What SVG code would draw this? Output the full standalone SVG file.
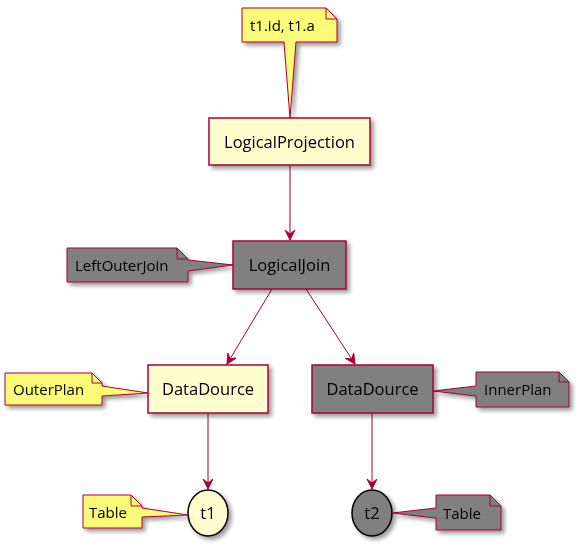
<svg xmlns="http://www.w3.org/2000/svg" width="583" height="550" viewBox="0 0 583 550">
<defs>
<filter id="sh" x="-20%" y="-20%" width="150%" height="150%">
<feGaussianBlur in="SourceAlpha" stdDeviation="2"/>
<feOffset dx="3" dy="3" result="b"/>
<feComponentTransfer><feFuncA type="linear" slope="0.4"/></feComponentTransfer>
<feMerge><feMergeNode/><feMergeNode in="SourceGraphic"/></feMerge>
</filter>
<marker id="ah" markerWidth="12" markerHeight="12" refX="10" refY="5" orient="auto" markerUnits="userSpaceOnUse">
<path d="M0,0 L10,5 L0,10 L4,5 Z" fill="#A80036" stroke="#A80036"/>
</marker>
</defs>
<style>
.box{fill:#FEFECE;stroke:#A80036;stroke-width:1.5}
.gbox{fill:#808080;stroke:#A80036;stroke-width:1.5}
.note{fill:#FBFB77;stroke:#A80036;stroke-width:1}
.gnote{fill:#808080;stroke:#A80036;stroke-width:1}
.fold{fill:none;stroke:#A80036;stroke-width:1}
.t{font-family:"Open Sans","Noto Sans",sans-serif;font-size:16.5px;fill:#000;text-anchor:middle}
.nt{font-family:"Open Sans","Noto Sans",sans-serif;font-size:15px;fill:#000}
.edge{stroke:#A80036;stroke-width:1;fill:none}
</style>
<rect width="583" height="550" fill="#fff"/>
<g id="connectors">
<path class="edge" d="M290,165 L290,240" marker-end="url(#ah)"/>
<path class="edge" d="M272,289 L227,364" marker-end="url(#ah)"/>
<path class="edge" d="M306,289 L355,364" marker-end="url(#ah)"/>
<path class="edge" d="M208,413 L208,489" marker-end="url(#ah)"/>
<path class="edge" d="M372,413 L372,489" marker-end="url(#ah)"/>
</g>
<g id="note-top" filter="url(#sh)">
<path class="note" d="M242,8 L326,8 L337,19 L337,42 L296,42 L290,118 L284,42 L242,42 Z"/>
<path class="fold" d="M326,8 L326,19 L337,19"/>
<text class="nt" x="250" y="31">t1.id, t1.a</text>
</g>
<g id="LogicalProjection" filter="url(#sh)">
<rect class="box" x="209" y="118" width="161" height="47"/>
<text class="t" x="289.5" y="148">LogicalProjection</text>
</g>
<g id="note-leftouterjoin" filter="url(#sh)">
<path class="gnote" d="M67,248 L177,248 L188,259 L188,260 L233,265 L188,271 L188,282 L67,282 Z"/>
<path class="fold" d="M177,248 L177,259 L188,259"/>
<text class="nt" x="75" y="271">LeftOuterJoin</text>
</g>
<g id="LogicalJoin" filter="url(#sh)">
<rect class="gbox" x="233" y="241" width="113" height="48"/>
<text class="t" x="289.5" y="271">LogicalJoin</text>
</g>
<g id="note-outerplan" filter="url(#sh)">
<path class="note" d="M5,373 L92,373 L102,383 L102,386 L148,393 L102,396 L102,405 L5,405 Z"/>
<path class="fold" d="M92,373 L92,383 L102,383"/>
<text class="nt" x="13" y="395">OuterPlan</text>
</g>
<g id="DataDource-left" filter="url(#sh)">
<rect class="box" x="148" y="365" width="120" height="48"/>
<text class="t" x="208" y="395">DataDource</text>
</g>
<g id="DataDource-right" filter="url(#sh)">
<rect class="gbox" x="312" y="365" width="121" height="48"/>
<text class="t" x="372.5" y="395">DataDource</text>
</g>
<g id="note-innerplan" filter="url(#sh)">
<path class="gnote" d="M476,372 L559,372 L569,382 L569,407 L476,407 L476,396 L433,391 L476,386 Z"/>
<path class="fold" d="M559,372 L559,382 L569,382"/>
<text class="nt" x="484" y="395">InnerPlan</text>
</g>
<g id="t1" filter="url(#sh)">
<ellipse cx="208" cy="513" rx="20" ry="23" fill="#FEFECE" stroke="#000" stroke-width="1.5"/>
<text class="t" x="208" y="519">t1</text>
</g>
<g id="note-table1" filter="url(#sh)">
<path class="note" d="M83,495 L131,495 L142,506 L142,508 L188,515 L142,517 L142,528 L83,528 Z"/>
<path class="fold" d="M131,495 L131,506 L142,506"/>
<text class="nt" x="89" y="518">Table</text>
</g>
<g id="t2" filter="url(#sh)">
<ellipse cx="372" cy="513" rx="20" ry="23" fill="#808080" stroke="#000" stroke-width="1.5"/>
<text class="t" x="372" y="519">t2</text>
</g>
<g id="note-table2" filter="url(#sh)">
<path class="gnote" d="M436,495 L490,495 L501,506 L501,530 L436,530 L436,518 L392,513 L436,508 Z"/>
<path class="fold" d="M490,495 L490,506 L501,506"/>
<text class="nt" x="443" y="519">Table</text>
</g>
</svg>
